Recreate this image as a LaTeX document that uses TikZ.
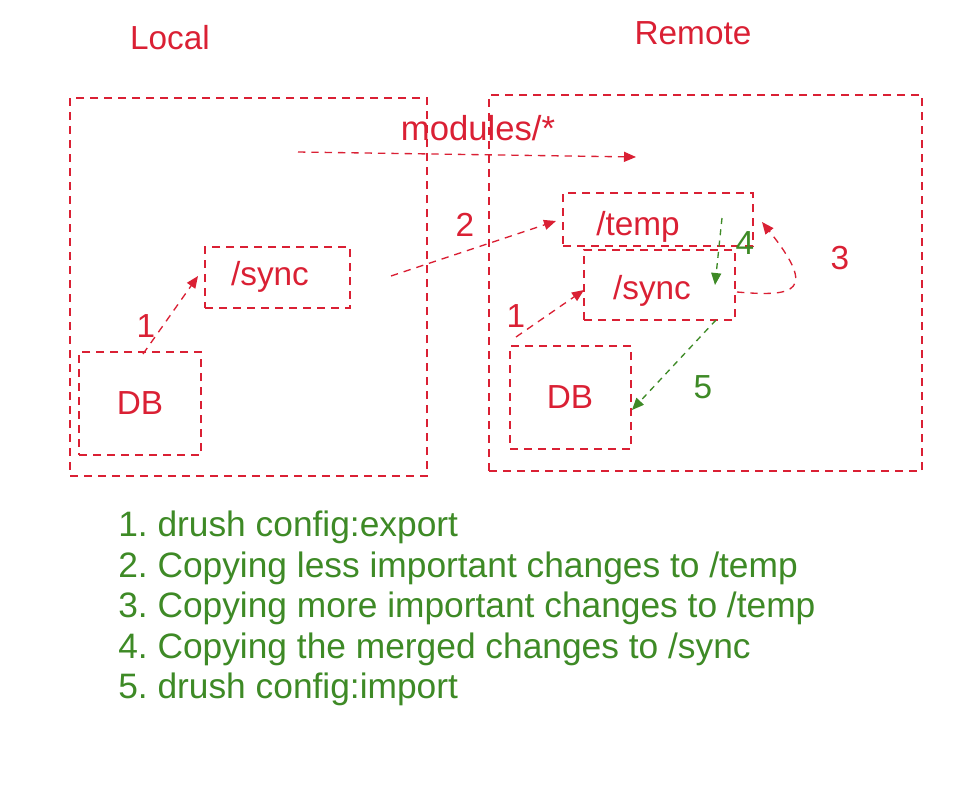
\documentclass[tikz,border=0pt]{standalone}
\usepackage{fontspec}
\setmainfont{Liberation Sans}
\usetikzlibrary{arrows.meta,fit}
\definecolor{xred}{RGB}{218,32,52}
\definecolor{xgreen}{RGB}{62,138,38}
\frenchspacing
\tikzset{
  box/.style={draw=xred, line width=1.1pt, dash pattern=on 6pt off 4.5pt, inner sep=0pt},
  redarrow/.style={draw=xred, line width=1pt, dash pattern=on 5.5pt off 4.5pt, -{Triangle[length=9pt,width=7.5pt]}},
  greenarrow/.style={draw=xgreen, line width=1pt, dash pattern=on 4.5pt off 4pt, -{Triangle[length=9pt,width=7.5pt]}},
  redlabel/.style={text=xred, font=\fontsize{25}{30}\selectfont, inner sep=0pt},
  greenlabel/.style={text=xgreen, font=\fontsize{25}{30}\selectfont, inner sep=0pt},
  listline/.style={text=xgreen, font=\fontsize{26.5}{30}\selectfont, anchor=base west, inner sep=0pt},
}
\begin{document}
\begin{tikzpicture}[x=0.75pt,y=-0.75pt]
\useasboundingbox (0,0) rectangle (965,800);
% headings
\node[redlabel, anchor=base] (local) at (170,49) {Local};
\node[redlabel, anchor=base] (remote) at (693,44) {Remote};
% big containers
\node[box, fit={(70,98) (427,476)}] (localbox) {};
\node[box, fit={(489,95) (922,471)}] (remotebox) {};
% modules
\node[redlabel, font=\fontsize{26}{30}\selectfont] (modules) at (478,128) {modules/*};
\coordinate (modA) at (298,152);
\coordinate (modB) at (636,157);
\draw[redarrow] (modA) -- (modB);
% local nodes
\node[box, fit={(205,247) (350,308)}] (lsync) {};
\node[redlabel] (lsynct) at (270,277) {/sync};
\node[box, fit={(79,352) (201,455)}] (ldb) {};
\node[redlabel] (ldbt) at (140,403) {DB};
% remote nodes
\node[box, fit={(563,193) (753,246)}] (temp) {};
\node[redlabel] (tempt) at (638,227) {/temp};
\node[box, fit={(584,250) (735,320)}] (rsync) {};
\node[redlabel] (rsynct) at (652,291) {/sync};
\node[box, fit={(510,346) (631,449)}] (rdb) {};
\node[redlabel] (rdbt) at (570,397) {DB};
% arrow 1 local
\coordinate (l1a) at (143,354);
\coordinate (l1b) at (198,276);
\draw[redarrow] (l1a) -- (l1b);
\node[redlabel] (n1l) at (146,326) {1};
% arrow 2
\coordinate (a2a) at (391,276);
\coordinate (a2b) at (556,221);
\draw[redarrow] (a2a) -- (a2b);
\node[redlabel] (n2) at (465,225) {2};
% arrow 1 remote
\coordinate (r1a) at (516,337);
\coordinate (r1b) at (584,290);
\draw[redarrow] (r1a) -- (r1b);
\node[redlabel] (n1r) at (516,316) {1};
% arrow 3
\coordinate (a3a) at (737,292);
\coordinate (a3b) at (762,222);
\draw[redarrow] (a3a) .. controls (795,297) and (818,292) .. (a3b);
\node[redlabel] (n3) at (840,258) {3};
% arrow 4
\coordinate (a4a) at (722,218);
\coordinate (a4b) at (715,285);
\draw[greenarrow] (a4a) -- (a4b);
\node[greenlabel] (n4) at (745,243) {4};
% arrow 5
\coordinate (a5a) at (716,320);
\coordinate (a5b) at (632,410);
\draw[greenarrow] (a5a) -- (a5b);
\node[greenlabel] (n5) at (703,387) {5};
% list
\node[listline] (li1) at (118,536) {1. drush config:export};
\node[listline] (li2) at (118,577) {2. Copying less important changes to /temp};
\node[listline] (li3) at (118,617) {3. Copying more important changes to /temp};
\node[listline] (li4) at (118,658) {4. Copying the merged changes to /sync};
\node[listline] (li5) at (118,698) {5. drush config:import};
\end{tikzpicture}
\end{document}
